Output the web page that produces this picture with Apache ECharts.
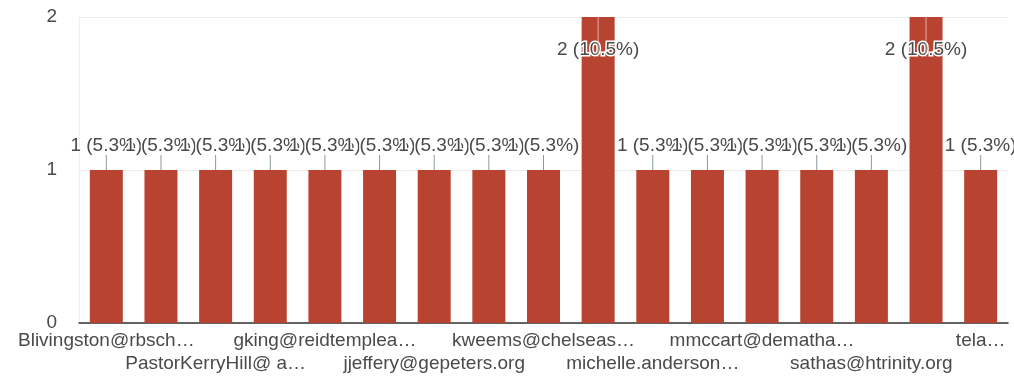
<!DOCTYPE html>
<html>
<head>
<meta charset="utf-8">
<script src="https://cdn.jsdelivr.net/npm/echarts@6/dist/echarts.min.js"></script>
<style>
  html, body { margin: 0; padding: 0; background: #fff; }
  #chart { width: 1014px; height: 389px; }
</style>
</head>
<body>
<div id="chart"></div>
<script>
// Respondents (only every other name fits under the axis; the rest stay unlabeled)
const respondents = [
  'Blivingston@rbsch…', '', 'PastorKerryHill@ a…', '', 'gking@reidtemplea…', '',
  'jjeffery@gepeters.org', '', 'kweems@chelseas…', '', 'michelle.anderson…', '',
  'mmccart@dematha…', '', 'sathas@htrinity.org', '', 'tela…'
];
// Number of responses per respondent
const counts = [1, 1, 1, 1, 1, 1, 1, 1, 1, 2, 1, 1, 1, 1, 1, 2, 1];
const yTicks = [0, 1, 2];

const total = counts.reduce((a, b) => a + b, 0);
const FONT = '"Liberation Sans", Arial, sans-serif';
const TEXT = '#4a4a4a';
const BAR = '#b84330';
const yMax = yTicks[yTicks.length - 1];

function pct(v) {
  return (Math.round(v / total * 1000) / 10).toFixed(1) + '%';
}

const chart = echarts.init(document.getElementById('chart'), null, { renderer: 'canvas' });

chart.setOption({
  animation: false,
  backgroundColor: '#fff',
  grid: { left: 79, right: 6, top: 17, bottom: 66, containLabel: false },
  xAxis: {
    type: 'category',
    data: respondents,
    axisLine: { show: true, lineStyle: { color: '#333', width: 1.5 } },
    axisTick: { show: false },
    axisLabel: {
      interval: 0,
      margin: 6,
      color: TEXT,
      fontFamily: FONT,
      fontSize: 19,
      lineHeight: 23,
      formatter: (val, idx) => (idx % 4 === 2 ? '\n' + val : val)
    }
  },
  yAxis: {
    type: 'value',
    min: yTicks[0],
    max: yMax,
    interval: 1,
    axisLine: { show: true, lineStyle: { color: '#f0f0f0' } },
    axisTick: { show: false },
    splitLine: { lineStyle: { color: '#ececec' } },
    axisLabel: { margin: 22, color: TEXT, fontFamily: FONT, fontSize: 19 }
  },
  series: [
    {
      type: 'bar',
      barWidth: 33,
      itemStyle: { color: BAR },
      data: counts.map(v => ({
        value: v,
        label: v >= yMax
          ? { position: 'insideTop', distance: 23 }
          : { position: 'top', distance: 15 }
      })),
      label: {
        show: true,
        color: TEXT,
        fontFamily: FONT,
        fontSize: 19,
        textBorderColor: '#fff',
        textBorderWidth: 3,
        formatter: p => p.value + ' (' + pct(p.value) + ')'
      }
    },
    {
      // thin leader lines joining each value label to its bar
      type: 'custom',
      silent: true,
      z: 3,
      data: counts.map((v, i) => [i, v]),
      renderItem: (params, api) => {
        const v = api.value(1);
        const p = api.coord([api.value(0), v]);
        const y2 = v >= yMax ? p[1] + 40 : p[1] - 15;
        return {
          type: 'line',
          shape: { x1: p[0], y1: p[1], x2: p[0], y2: y2 },
          style: { stroke: v >= yMax ? 'rgba(235,200,190,0.8)' : '#8a9aa0', lineWidth: 1 }
        };
      }
    }
  ]
});
</script>
</body>
</html>
